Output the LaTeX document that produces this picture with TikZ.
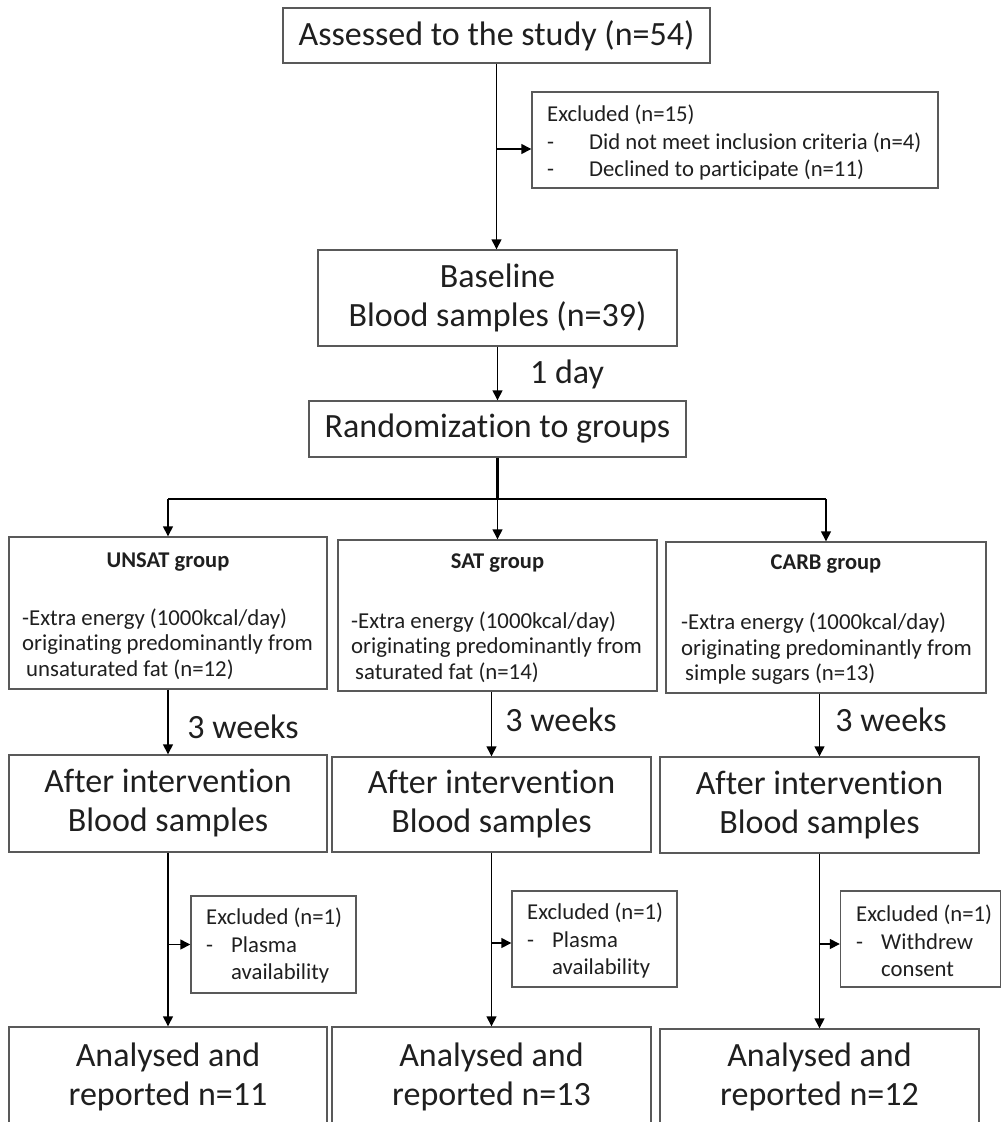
\documentclass[tikz,border=0pt]{standalone}
\usepackage{fontspec}
\setmainfont{Carlito}[Ligatures=NoCommon]
\usetikzlibrary{arrows.meta,calc}
\begin{document}
\begin{tikzpicture}[x=1pt,y=-1pt,
  box/.style={draw=black!65,line width=1.4pt,inner sep=0pt,rectangle,text=black!88},
  big/.style={font=\fontsize{34}{39}\selectfont,text=black!88,align=center},
  body/.style={font=\fontsize{22.8}{25.5}\selectfont,text=black!88,align=left,inner sep=0pt},
  ttl/.style={font=\bfseries\fontsize{22.5}{25}\selectfont,text=black!88,inner sep=0pt},
  excl/.style={font=\fontsize{22.7}{27.5}\selectfont,text=black!88,align=left,inner sep=0pt},
  lbl/.style={font=\fontsize{34}{39}\selectfont,text=black!88,inner sep=0pt},
  conn/.style={line width=1.4pt,draw=black},
  arr/.style={conn,-{Triangle[length=10pt,width=10pt]}},
]
\clip (0,0) rectangle (1001,1122);
\fill[white] (0,0) rectangle (1001,1122);

% top
\node[box,big,minimum width=427pt,minimum height=55pt] (assess) at (496.5,35.5) {Assessed to the study (n=54)};
\node[box,minimum width=406pt,minimum height=96pt] (ex15) at (735,140) {};
\node[excl,anchor=west] (ex15t) at (547,143) {Excluded (n=15)\\\makebox[42pt][l]{-}Did not meet inclusion criteria (n=4)\\\makebox[42pt][l]{-}Declined to participate (n=11)};

\node[box,big,minimum width=359pt,minimum height=96pt] (base) at (497.5,298) {Baseline\\Blood samples (n=39)};
\node[box,big,minimum width=377pt,minimum height=56pt] (rand) at (497.5,429) {Randomization to groups};
\node[lbl] (day) at (567,374) {1 day};

% group boxes
\node[box,minimum width=318pt,minimum height=152pt] (unsat) at (168,613) {};
\node[box,minimum width=319pt,minimum height=151pt] (sat) at (497.5,615.5) {};
\node[box,minimum width=320pt,minimum height=151pt] (carb) at (826,617.5) {};
\node[ttl] (unsatt) at (168,562) {UNSAT group};
\node[ttl] (satt) at (497.5,563) {SAT group};
\node[ttl] (carbt) at (826,564) {CARB group};
\node[body,anchor=west] (unsatb) at (22,644) {-Extra energy (1000kcal/day)\\originating predominantly from\\\hspace{4pt}unsaturated fat (n=12)};
\node[body,anchor=west] (satb) at (351,647) {-Extra energy (1000kcal/day)\\originating predominantly from\\\hspace{4pt}saturated fat (n=14)};
\node[body,anchor=west] (carbb) at (681,649) {-Extra energy (1000kcal/day)\\originating predominantly from\\\hspace{4pt}simple sugars (n=13)};

% after intervention
\node[box,big,minimum width=318pt,minimum height=97pt] (afu) at (168,803.5) {After intervention\\Blood samples};
\node[box,big,minimum width=319pt,minimum height=95pt] (afs) at (491.5,804.5) {After intervention\\Blood samples};
\node[box,big,minimum width=319pt,minimum height=96pt] (afc) at (819.5,805) {After intervention\\Blood samples};
\node[lbl] (wu) at (243,727) {3 weeks};
\node[lbl] (ws) at (561,720) {3 weeks};
\node[lbl] (wc) at (891,720) {3 weeks};

% small exclusion boxes
\node[box,minimum width=165pt,minimum height=97pt] (exu) at (273.5,944.5) {};
\node[excl,anchor=west] (exut) at (206,946) {Excluded (n=1)\\\makebox[25pt][l]{-}Plasma\\\makebox[25pt][l]{}availability};
\node[box,minimum width=165pt,minimum height=96pt] (exs) at (594.5,939) {};
\node[excl,anchor=west] (exst) at (527,941) {Excluded (n=1)\\\makebox[25pt][l]{-}Plasma\\\makebox[25pt][l]{}availability};
\node[box,minimum width=160pt,minimum height=96pt] (exc) at (920.5,939) {};
\node[excl,anchor=west] (exct) at (856,941) {Excluded (n=1)\\\makebox[25pt][l]{-}Withdrew\\\makebox[25pt][l]{}consent};

% bottom boxes (cut by the page edge)
\node[box,big,minimum width=318pt,minimum height=100pt] (botu) at (168,1077) {Analysed and\\reported n=11};
\node[box,big,minimum width=319pt,minimum height=100pt] (bots) at (491.5,1077) {Analysed and\\reported n=13};
\node[box,big,minimum width=319pt,minimum height=96pt] (botc) at (819.5,1077) {Analysed and\\reported n=12};

% connectors
\draw[arr] (assess.south) -- (assess.south |- base.north);
\draw[arr] ([yshift=-9pt]ex15.west -| assess.south) -- ([yshift=-9pt]ex15.west);
\draw[arr] (base.south) -- (rand.north);
\coordinate (split) at (497.5,499);
\draw[conn,line width=2.6pt] (rand.south) -- (split);
\draw[conn] (split -| unsat.north) -- (split -| carb.north);
\draw[arr] (split -| unsat.north) -- (unsat.north);
\draw[arr] (split) -- (sat.north);
\draw[arr] (split -| carb.north) -- (carb.north);

\draw[arr] (unsat.south) -- (afu.north);
\draw[arr] (afs.north |- sat.south) -- (afs.north);
\draw[arr] (afc.north |- carb.south) -- (afc.north);

\draw[arr] (afu.south) -- (botu.north);
\draw[arr] (afs.south) -- (bots.north);
\draw[arr] (afc.south) -- (botc.north);
\draw[arr] (exu.west -| afu.south) -- (exu.west);
\draw[arr] ([yshift=-4pt]exs.west -| afs.south) -- ([yshift=-4pt]exs.west);
\draw[arr] ([yshift=-5pt]exc.west -| afc.south) -- ([yshift=-5pt]exc.west);
\end{tikzpicture}
\end{document}
